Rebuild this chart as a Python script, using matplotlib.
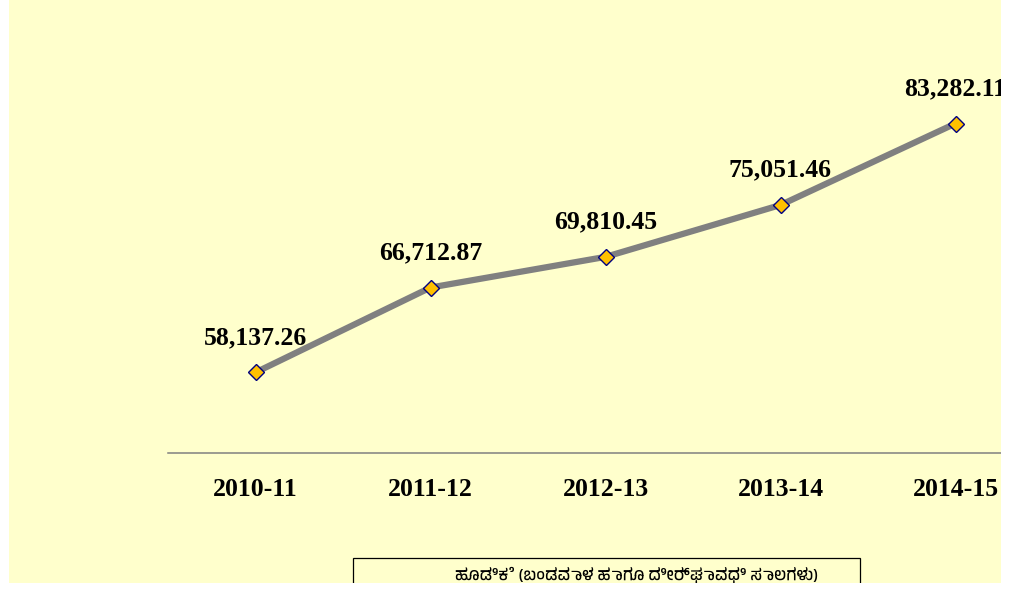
import matplotlib
matplotlib.use("Agg")
import matplotlib.pyplot as plt
from matplotlib import font_manager
from matplotlib.patches import Rectangle

# Data
years = ["2010-11", "2011-12", "2012-13", "2013-14", "2014-15"]
values = [58137.26, 66712.87, 69810.45, 75051.46, 83282.11]
legend_label = "ಹೂಡಿಕೆ (ಬಂಡವಾಳ ಹಾಗೂ ದೀರ್ಘಾವಧಿ ಸಾಲಗಳು)"

W, H = 1027, 591
bg = "#FFFFCC"

# pick a font that can draw Kannada, if there is one
kn_fonts = [f.name for f in font_manager.fontManager.ttflist if "Kannada" in f.name]
legend_family = list(dict.fromkeys(kn_fonts)) + ["DejaVu Sans"]

fig = plt.figure(figsize=(W / 100, H / 100), dpi=100, facecolor="white")

# yellow chart area
fig.patches.append(Rectangle((9 / W, (H - 583) / H), (1001 - 9) / W, 583 / H,
                             transform=fig.transFigure, facecolor=bg,
                             edgecolor="none", zorder=-1))

ax = fig.add_axes([168 / W, (H - 453) / H, (1001 - 168) / W, (453 - 57) / H])
ax.set_facecolor("none")
x = list(range(len(years)))
ax.plot(x, values, color="#808080", lw=4.5, marker="D", markersize=8.5,
        markerfacecolor="#FFC000", markeredgecolor="#000080",
        markeredgewidth=1.0, zorder=3)

for xi, v in zip(x, values):
    ax.annotate(f"{v:,.2f}", (xi, v), xytext=(0, 25), textcoords="offset points",
                ha="center", va="center", fontsize=18.5, fontweight="bold",
                family="Liberation Serif", clip_on=True)

ax.set_xlim(-0.5, -0.5 + 833 / 175)
ax.set_ylim(50000, 90000)
ax.set_xticks(x)
ax.set_xticklabels(years, fontsize=18.5, fontweight="bold", family="Liberation Serif")
ax.tick_params(axis="x", length=0, pad=18)
ax.set_yticks([])
for s in ["top", "right", "left"]:
    ax.spines[s].set_visible(False)
ax.spines["bottom"].set_color("#808080")
ax.spines["bottom"].set_linewidth(1.1)

# legend box (cut off at the bottom like the original)
fig.patches.append(Rectangle((353 / W, -20 / H), (860 - 353) / W, (H - 558 + 20) / H,
                             transform=fig.transFigure, facecolor="none",
                             edgecolor="black", lw=0.9, zorder=5))
fig.text(637 / W, (H - 575) / H, legend_label, ha="center", va="center",
         fontsize=11.8, fontweight="bold", family=legend_family, zorder=6)

# white margins that crop the chart
fig.patches.append(Rectangle((0, 0), 1, (H - 583) / H, transform=fig.transFigure,
                             facecolor="white", edgecolor="none", zorder=20))
fig.patches.append(Rectangle((1001 / W, 0), 1, 1, transform=fig.transFigure,
                             facecolor="white", edgecolor="none", zorder=20))

fig.savefig("out.png", dpi=100, facecolor="white")
